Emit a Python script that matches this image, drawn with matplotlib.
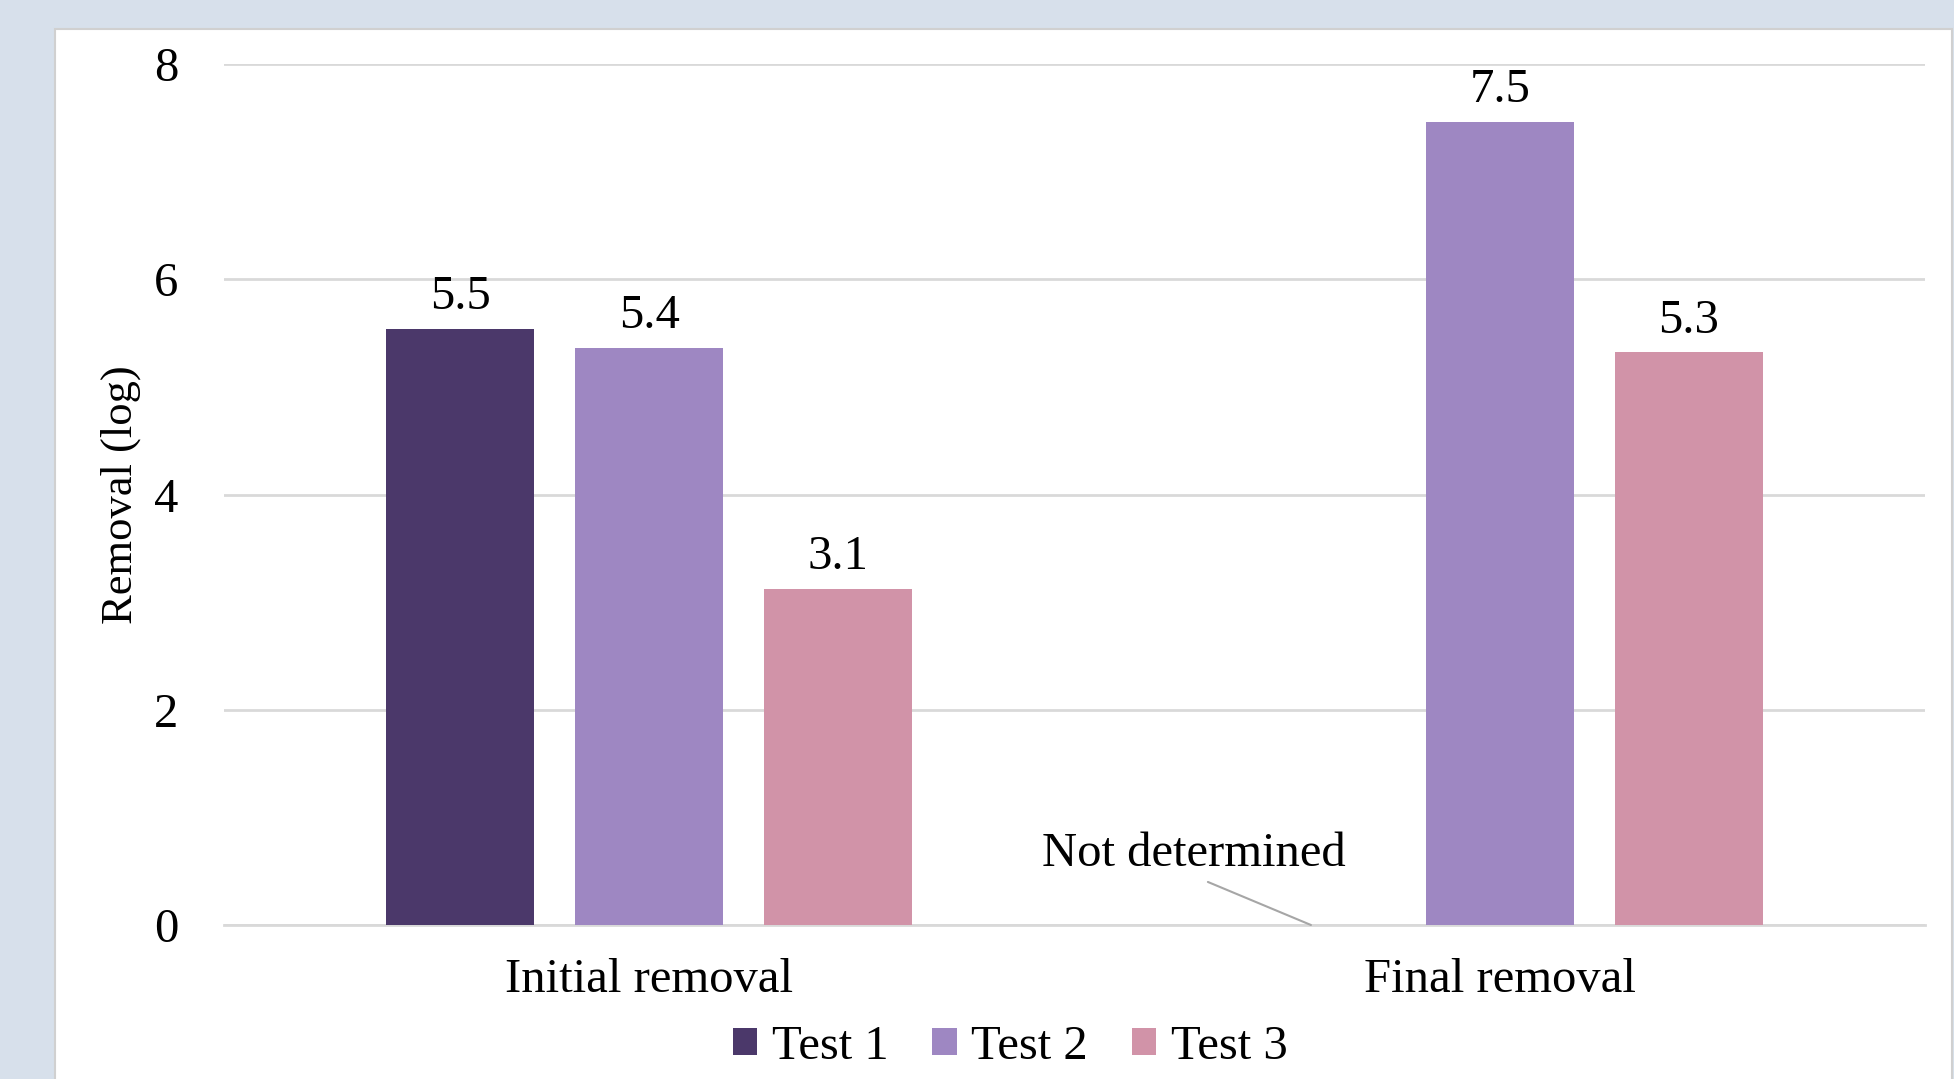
import matplotlib
matplotlib.use("Agg")
import matplotlib.pyplot as plt
import numpy as np
from matplotlib.patches import Rectangle

# removal data, log units (None = not determined)
categories = ["Initial removal", "Final removal"]
series_names = ["Test 1", "Test 2", "Test 3"]
test1 = [5.54, None]
test2 = [5.36, 7.46]
test3 = [3.12, 5.32]
colors = ["#4B386A", "#9E87C2", "#D193A8"]
y_ticks = [0, 2, 4, 6, 8]

plt.rcParams["font.family"] = ["Liberation Serif", "DejaVu Serif"]
FS = 35

fig = plt.figure(figsize=(19.54, 10.79), dpi=100)
fig.patch.set_facecolor("#D7E0EB")

# white chart panel on the blue-grey page
panel = Rectangle((55 / 1954, -0.01), (1952 - 55) / 1954, 1 - 29 / 1079 + 0.01,
                  transform=fig.transFigure, facecolor="white",
                  edgecolor="#D0D0D0", linewidth=1.5, zorder=-1)
fig.patches.append(panel)

ax = fig.add_axes([224 / 1954, 1 - 925 / 1079, (1925 - 224) / 1954, (925 - 64) / 1079])
ax.set_facecolor("none")

x = np.arange(len(categories))
offsets = [-0.222, 0.0, 0.222]
width = 0.174

for series, off, col, name in zip([test1, test2, test3], offsets, colors, series_names):
    vals = np.array([np.nan if v is None else v for v in series], dtype=float)
    ax.bar(x + off, np.nan_to_num(vals), width, color=col, label=name, zorder=3)
    for xi, v in zip(x + off, vals):
        if np.isnan(v):
            continue
        ax.annotate(f"{v:.1f}", (xi, v), xytext=(0, 7), textcoords="offset points",
                    ha="center", va="bottom", fontsize=FS)

# leader line for the missing Test 1 final value
ax.annotate("Not determined", xy=(1 + offsets[0], 0), xytext=(0.64, 0.66),
            ha="center", va="center", fontsize=FS,
            arrowprops=dict(arrowstyle="-", color="#A6A6A6", lw=1.5,
                            relpos=(0.5, 0.0), shrinkA=6, shrinkB=0))

ax.set_xlim(-0.5, 1.5)
ax.set_ylim(0, 8)
ax.set_yticks(y_ticks)
ax.set_xticks(x)
ax.set_xticklabels(categories)
ax.tick_params(axis="y", length=0, pad=33, labelsize=FS)
ax.tick_params(axis="x", length=0, pad=24, labelsize=FS)
ax.grid(axis="y", color="#D9D9D9", linewidth=2, zorder=0)
for s in ["top", "right", "left"]:
    ax.spines[s].set_visible(False)
ax.spines["bottom"].set_color("#D9D9D9")
ax.spines["bottom"].set_linewidth(2)

ax.set_ylabel("Removal (log)", fontsize=32, va="center")
ax.yaxis.set_label_coords(-0.0606, 0.5)

fig.legend(loc="center", bbox_to_anchor=(0.517, 0.03), ncol=3, frameon=False,
           fontsize=FS, handlelength=0.5, handleheight=0.5, handletextpad=0.3,
           columnspacing=0.9)

fig.savefig("out.png", dpi=100, facecolor=fig.get_facecolor())
